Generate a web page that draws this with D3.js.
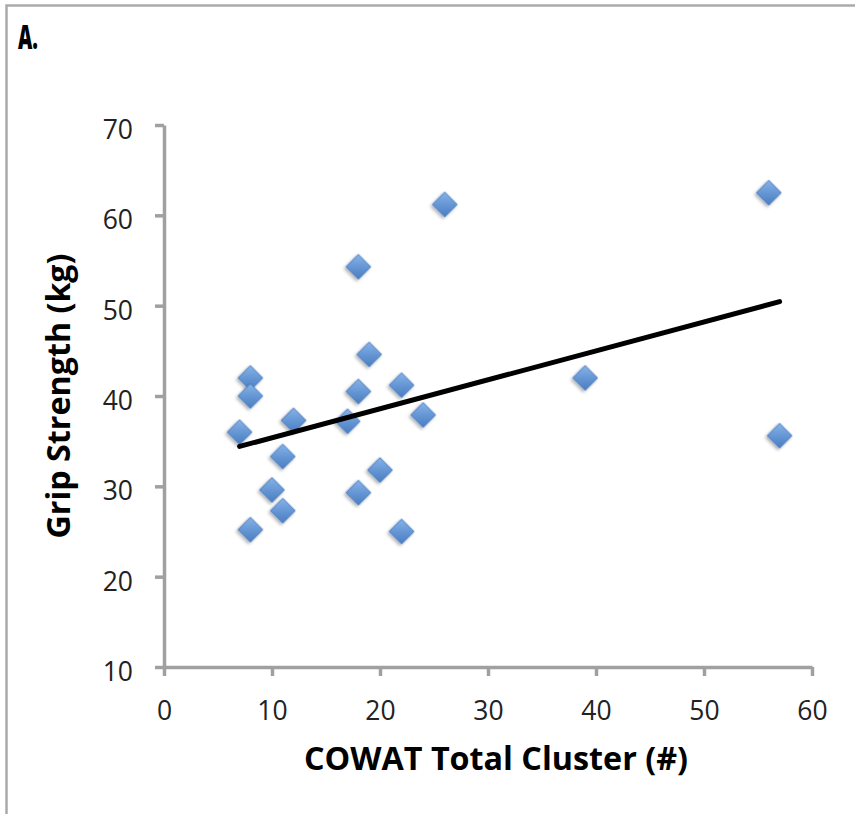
<!DOCTYPE html>
<html>
<head>
<meta charset="utf-8">
<script src="https://cdn.jsdelivr.net/npm/d3@7"></script>
<style>
  html, body { margin: 0; padding: 0; background: #fff; }
  svg { display: block; }
</style>
</head>
<body>
<svg id="chart" width="855" height="814"></svg>
<script>
// ---- data ----
const cowatCluster = [7, 8, 8, 8, 10, 11, 11, 12, 17, 18, 18, 18, 19, 20, 22, 22, 24, 26, 39, 56, 57];
const gripStrength = [36.0, 42.0, 40.0, 25.2, 29.6, 33.3, 27.3, 37.3, 37.2, 40.5, 54.3, 29.3, 44.6, 31.8, 41.2, 25.0, 37.9, 61.2, 42.0, 62.5, 35.6];
const xTicks = [0, 10, 20, 30, 40, 50, 60];
const yTicks = [10, 20, 30, 40, 50, 60, 70];
const panelLabel = "A.";
const xTitle = "COWAT Total Cluster (#)";
const yTitle = "Grip Strength (kg)";

const points = cowatCluster.map((x, i) => ({ x, y: gripStrength[i] }));

const svg = d3.select("#chart");

// frame (only top and left edges visible in the crop)
svg.append("path")
  .attr("d", "M6.5,820 V5.5 H860")
  .attr("fill", "none")
  .attr("stroke", "#aaaaaa")
  .attr("stroke-width", 2.5);

svg.append("text")
  .attr("x", 18).attr("y", 49)
  .attr("font-family", "'Open Sans', sans-serif")
  .attr("font-weight", 800)
  .attr("font-size", 34)
  .attr("textLength", 20)
  .attr("lengthAdjust", "spacingAndGlyphs")
  .attr("fill", "#000")
  .text(panelLabel);

// scales
const x = d3.scaleLinear().domain([0, 60]).range([164, 812]);
const y = d3.scaleLinear().domain([10, 70]).range([667, 125]);

const defs = svg.append("defs");
const grad = defs.append("linearGradient").attr("id", "dia")
  .attr("x1", 0).attr("y1", 0).attr("x2", 1).attr("y2", 1);
grad.append("stop").attr("offset", "0%").attr("stop-color", "#86b3e8");
grad.append("stop").attr("offset", "55%").attr("stop-color", "#6394d3");
grad.append("stop").attr("offset", "100%").attr("stop-color", "#4a7dc0");
const sh = defs.append("filter").attr("id", "shadow")
  .attr("x", "-50%").attr("y", "-50%").attr("width", "200%").attr("height", "200%");
sh.append("feDropShadow").attr("dx", 0).attr("dy", 2.5).attr("stdDeviation", 1.8)
  .attr("flood-color", "#000").attr("flood-opacity", 0.3);

const font = "'Open Sans', sans-serif";

// y axis
const yAxis = svg.append("g")
  .attr("transform", `translate(${x(0)},0)`)
  .call(d3.axisLeft(y).tickValues(yTicks).tickFormat(d3.format("d")).tickSizeInner(9).tickSizeOuter(0).tickPadding(22));
// x axis
const xAxis = svg.append("g")
  .attr("transform", `translate(0,${y(10)})`)
  .call(d3.axisBottom(x).tickValues(xTicks).tickFormat(d3.format("d")).tickSizeInner(9).tickSizeOuter(0).tickPadding(10));

[yAxis, xAxis].forEach(g => {
  g.select(".domain").attr("stroke", "#a0a0a0").attr("stroke-width", 3.5);
  g.selectAll(".tick line").attr("stroke", "#a0a0a0").attr("stroke-width", 3.5);
  g.selectAll(".tick text")
    .attr("font-family", font)
    .attr("font-size", 26.5)
    .attr("fill", "#222");
});
yAxis.selectAll(".tick text").attr("dy", "0.357em").attr("y", 4);
xAxis.selectAll(".tick text").attr("dy", null).attr("y", 53);

// trend line (least squares fit of the data)
const mx = d3.mean(cowatCluster), my = d3.mean(gripStrength);
const sxy = d3.sum(points, p => (p.x - mx) * (p.y - my));
const sxx = d3.sum(points, p => (p.x - mx) * (p.x - mx));
const slope = sxy / sxx, intercept = my - slope * mx;
const [xmin, xmax] = d3.extent(cowatCluster);
const trend = [xmin, xmax].map(v => ({ x: v, y: intercept + slope * v }));

// markers
svg.append("g").selectAll("path")
  .data(points)
  .join("path")
  .attr("d", d3.symbol().type(d3.symbolSquare).size(310))
  .attr("transform", d => `translate(${x(d.x)},${y(d.y)}) rotate(45)`)
  .attr("fill", "url(#dia)")
  .attr("stroke", "#4a7bbb")
  .attr("stroke-width", 0.8)
  .attr("filter", "url(#shadow)");

svg.append("path")
  .datum(trend)
  .attr("d", d3.line().x(d => x(d.x)).y(d => y(d.y)))
  .attr("fill", "none")
  .attr("stroke", "#000")
  .attr("stroke-width", 5)
  .attr("stroke-linecap", "round");

// axis titles
svg.append("text")
  .attr("x", 496).attr("y", 770)
  .attr("text-anchor", "middle")
  .attr("font-family", font)
  .attr("font-weight", 700)
  .attr("font-size", 32)
  .attr("textLength", 384)
  .attr("lengthAdjust", "spacingAndGlyphs")
  .attr("fill", "#000")
  .text(xTitle);

svg.append("text")
  .attr("transform", `translate(70,${(y(10) + y(70)) / 2}) rotate(-90)`)
  .attr("text-anchor", "middle")
  .attr("font-family", font)
  .attr("font-weight", 700)
  .attr("font-size", 32)
  .attr("textLength", 285)
  .attr("lengthAdjust", "spacingAndGlyphs")
  .attr("fill", "#000")
  .text(yTitle);
</script>
</body>
</html>
